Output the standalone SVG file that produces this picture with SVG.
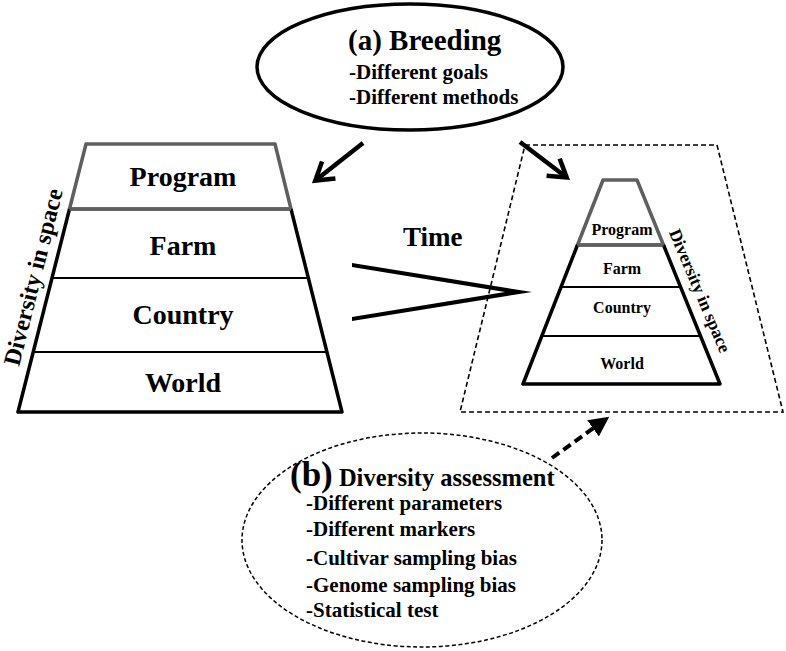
<svg xmlns="http://www.w3.org/2000/svg" width="786" height="651" viewBox="0 0 786 651">
<style>
text{font-family:"Liberation Serif","Times New Roman",serif;font-weight:bold;fill:#000}
.big{font-size:28px}
.sm{font-size:16px}
.gray{fill:none;stroke:#5f5f5f;stroke-width:3.5;stroke-linejoin:round}
.blk{fill:none;stroke:#000;stroke-width:3.5;stroke-linejoin:round}
.thin{fill:none;stroke:#000;stroke-width:2.2}
.arr{fill:none;stroke:#000;stroke-width:4.5;stroke-linecap:butt}
</style>
<defs>
<marker id="vhead" markerWidth="6" markerHeight="6" refX="4.2" refY="3" orient="auto" markerUnits="strokeWidth" viewBox="0 0 6 6">
<path d="M0.6,0.6 L4.4,3 L0.6,5.4" fill="none" stroke="#000" stroke-width="1"/>
</marker>
<marker id="fhead" markerWidth="5" markerHeight="5" refX="4" refY="2.5" orient="auto" markerUnits="strokeWidth" viewBox="0 0 5 5">
<path d="M0,0 L5,2.5 L0,5 Z" fill="#000"/>
</marker>
</defs>
<rect width="786" height="651" fill="#fff"/>

<g id="breeding">
<ellipse cx="410" cy="67" rx="153" ry="63" fill="none" stroke="#000" stroke-width="3.5"/>
<text x="348" y="50" font-size="29">(a) Breeding</text>
<text x="349" y="79" font-size="21">-Different goals</text>
<text x="349" y="104" font-size="21">-Different methods</text>
</g>

<g id="left-pyramid">
<polygon class="gray" points="86,144 275,144 291,209 69.5,209"/>
<path class="blk" d="M69.5,209 L18,412 L342,412 L291,209"/>
<line class="thin" x1="52" y1="278" x2="308.5" y2="278"/>
<line class="thin" x1="33.2" y1="352" x2="327" y2="352"/>
<line class="gray" x1="69.5" y1="209" x2="291" y2="209"/>
<text class="big" x="183" y="186" text-anchor="middle">Program</text>
<text class="big" x="183" y="255" text-anchor="middle">Farm</text>
<text class="big" x="183" y="324" text-anchor="middle">Country</text>
<text class="big" x="183" y="392" text-anchor="middle">World</text>
<text font-size="24" text-anchor="middle" transform="translate(41 279) rotate(-76)">Diversity in space</text>
</g>

<g id="right-pyramid">
<polygon points="525,145 717,145 783,412 460,412" fill="none" stroke="#000" stroke-width="1.6" stroke-dasharray="5,3"/>
<polygon class="gray" points="603,180 637,180 663.5,245 577.5,245"/>
<path class="blk" d="M577.5,245 L523,384 L720,384 L663.5,245"/>
<line class="thin" x1="561" y1="287" x2="680.5" y2="287"/>
<line class="thin" x1="541.8" y1="336" x2="700.5" y2="336"/>
<line class="gray" x1="577.5" y1="245" x2="663.5" y2="245"/>
<text class="sm" x="622" y="235" text-anchor="middle">Program</text>
<text class="sm" x="622" y="274" text-anchor="middle">Farm</text>
<text class="sm" x="622" y="313" text-anchor="middle">Country</text>
<text class="sm" x="622" y="369" text-anchor="middle">World</text>
<text font-size="17.5" text-anchor="middle" transform="translate(694.5 293) rotate(67)">Diversity in space</text>
</g>

<g id="time">
<text x="403" y="246" font-size="27">Time</text>
<path d="M352,263 L532,292 L352,321 L352,317 L505,292 L352,267 Z" fill="#000"/>
</g>

<g id="assessment">
<ellipse cx="422" cy="540" rx="180" ry="107" fill="none" stroke="#000" stroke-width="1.5" stroke-dasharray="4,2.5"/>
<text x="290" y="486"><tspan font-size="35">(b)</tspan><tspan font-size="24.5"> Diversity assessment</tspan></text>
<text x="306" y="510" font-size="21">-Different parameters</text>
<text x="306" y="536" font-size="21">-Different markers</text>
<text x="306" y="565" font-size="21">-Cultivar sampling bias</text>
<text x="306" y="592" font-size="21">-Genome sampling bias</text>
<text x="306" y="617" font-size="21">-Statistical test</text>
</g>

<g id="connectors">
<line class="arr" x1="363" y1="143" x2="316" y2="180" marker-end="url(#vhead)"/>
<line class="arr" x1="520" y1="142" x2="566" y2="177" marker-end="url(#vhead)"/>
<line x1="552" y1="458" x2="606" y2="419" stroke="#000" stroke-width="4" stroke-dasharray="9,5" marker-end="url(#fhead)"/>
</g>
</svg>
